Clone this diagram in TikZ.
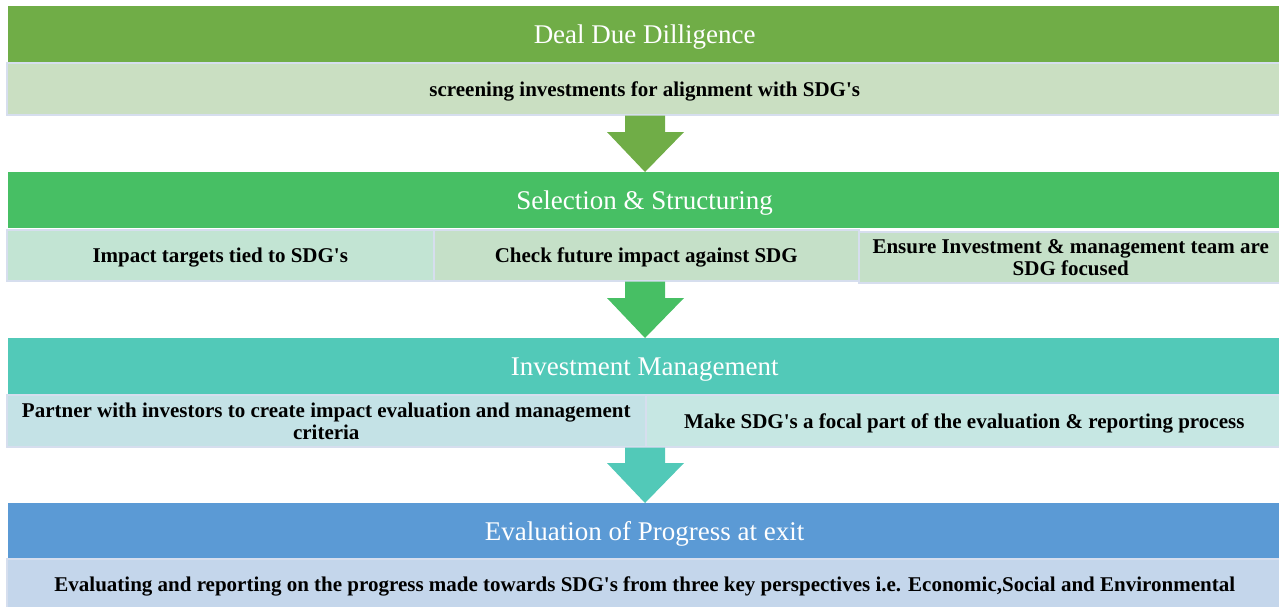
\documentclass[tikz,border=0pt]{standalone}
\usepackage{fontspec}
\setmainfont{Liberation Serif}[Ligatures=TeXOff]
\usetikzlibrary{calc}
\definecolor{hA}{HTML}{70AD47}
\definecolor{hB}{HTML}{47BF64}
\definecolor{hC}{HTML}{52C9B8}
\definecolor{hD}{HTML}{5B9AD5}
\definecolor{sA}{HTML}{CADFC2}
\definecolor{sB1}{HTML}{C2E4D3}
\definecolor{sB2}{HTML}{C5E0C8}
\definecolor{sC1}{HTML}{C4E2E6}
\definecolor{sC2}{HTML}{C6E7E3}
\definecolor{sD}{HTML}{C4D6EB}
\definecolor{bord}{HTML}{D6DEEE}
\newcommand\blockarrow[3]{%
  \path let \p1=(#1.south), \p2=(#2.north) in
    [fill=#3] (625pt,\y1) -- (665pt,\y1) -- (665pt,\y2+40pt) -- (684pt,\y2+40pt)
    -- (645pt,\y2) -- (607pt,\y2+40pt) -- (625pt,\y2+40pt) -- cycle;}
\tikzset{
  hdr/.style={anchor=north west, inner sep=0pt, minimum width=1273pt, minimum height=56pt,
    text=white, text depth=0pt, font=\fontsize{27}{30}\selectfont},
  sub/.style={anchor=north west, inner sep=0pt, draw=bord, line width=1.5pt,
    align=center, text depth=0pt, font=\bfseries\fontsize{21}{22}\selectfont}
}
\begin{document}
\begin{tikzpicture}[x=1pt,y=-1pt]
\useasboundingbox (0,0) rectangle (1279,606);
% stage 1
\node[hdr, fill=hA] (h1) at (8,6) {Deal Due Dilligence};
\node[sub, fill=sA, minimum width=1276pt, minimum height=52pt] (s1) at (6,62) {screening investments for alignment with SDG's};
% stage 2
\node[hdr, fill=hB] (h2) at (8,172) {Selection \& Structuring};
\node[sub, fill=sB1, minimum width=427pt, minimum height=51pt] (s2a) at (6,229) {Impact targets tied to SDG's};
\node[sub, fill=sB2, minimum width=425pt, minimum height=51pt] (s2b) at (433,229) {Check future impact against SDG};
\node[sub, fill=sB2, minimum width=424pt, minimum height=51pt] (s2c) at (858,231) {Ensure Investment \& management team are\\SDG focused};
% stage 3
\node[hdr, fill=hC] (h3) at (8,338) {Investment Management};
\node[sub, fill=sC1, minimum width=639pt, minimum height=52pt] (s3a) at (6,394) {Partner with investors to create impact evaluation and management\\criteria};
\node[sub, fill=sC2, minimum width=637pt, minimum height=52pt] (s3b) at (645,394) {Make SDG's a focal part of the evaluation \& reporting process};
% stage 4
\node[hdr, fill=hD] (h4) at (8,503) {Evaluation of Progress at exit};
\node[sub, fill=sD, minimum width=1276pt, minimum height=50pt] (s4) at (6,558) {Evaluating and reporting on the progress made towards SDG's from three key perspectives i.e. Economic,Social and Environmental};
% arrows
\blockarrow{s1}{h2}{hA}
\blockarrow{s2b}{h3}{hB}
\blockarrow{s3a}{h4}{hC}
\end{tikzpicture}
\end{document}
